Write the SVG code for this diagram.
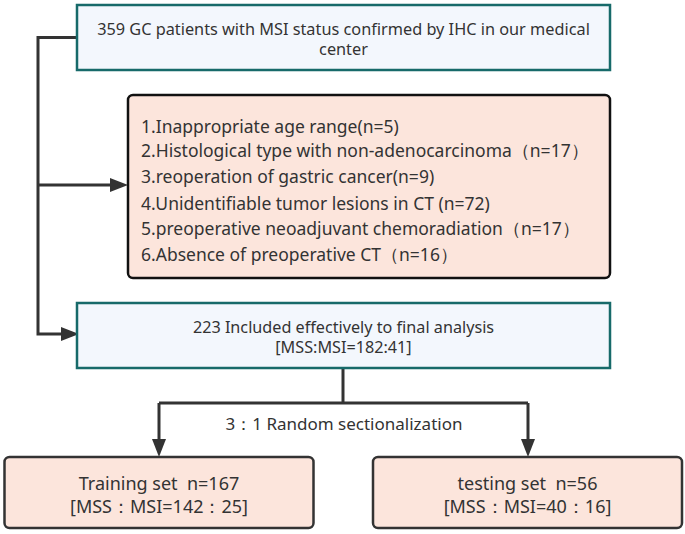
<svg xmlns="http://www.w3.org/2000/svg" width="685" height="534" viewBox="0 0 685 534">
<defs>
<style>
.blue{fill:#f3f7fd;stroke:#176a6a;stroke-width:2.5}
.pink{fill:#fce5dc;stroke:#111;stroke-width:2.5}
.pink2{fill:#fce5dc;stroke:#333;stroke-width:2.5}
.t{font-family:"Noto Sans","Liberation Sans",sans-serif;fill:#333;white-space:pre}
.c{text-anchor:middle}
.conn{fill:none;stroke:#333;stroke-width:3}
</style>
<marker id="arr" markerUnits="userSpaceOnUse" markerWidth="18" markerHeight="14" refX="8" refY="7" orient="auto">
<path d="M0,0 L18,7 L0,14 z" fill="#333"/>
</marker>
</defs>
<rect width="685" height="534" fill="#fff"/>
<g id="connectors">
<path class="conn" d="M77,37.5 H38 V334 H69" marker-end="url(#arr)"/>
<path class="conn" d="M38,185 H118" marker-end="url(#arr)"/>
<path class="conn" d="M343,368 V403"/>
<path class="conn" d="M159,403 H528"/>
<path class="conn" d="M159,403 V447" marker-end="url(#arr)"/>
<path class="conn" d="M528,403 V447" marker-end="url(#arr)"/>
</g>
<g id="n1">
<rect class="blue" x="77" y="5" width="533" height="65"/>
<text class="t c" x="343.5" y="35" font-size="16.3">359 GC patients with MSI status confirmed by IHC in our medical</text>
<text class="t c" x="343.5" y="55" font-size="16.3">center</text>
</g>
<g id="n2">
<rect class="pink" x="128" y="95" width="482" height="183" rx="5"/>
<g class="t" font-size="17.5">
<text x="141" y="132.5">1.Inappropriate age range(n=5)</text>
<text x="141" y="157">2.Histological type with non-adenocarcinoma（n=17）</text>
<text x="141" y="183">3.reoperation of gastric cancer(n=9)</text>
<text x="141" y="209.5">4.Unidentifiable tumor lesions in CT (n=72)</text>
<text x="141" y="235">5.preoperative neoadjuvant chemoradiation（n=17）</text>
<text x="141" y="260.5">6.Absence of preoperative CT（n=16）</text>
</g>
</g>
<g id="n3">
<rect class="blue" x="77" y="303" width="533" height="65"/>
<text class="t c" x="343.5" y="333" font-size="16.2">223 Included effectively to final analysis</text>
<text class="t c" x="343.5" y="353" font-size="16.2">[MSS:MSI=182:41]</text>
</g>
<g id="label">
<text class="t c" x="344" y="430" font-size="17">3：1 Random sectionalization</text>
</g>
<g id="n4">
<rect class="pink2" x="4.5" y="457" width="309" height="71" rx="5"/>
<text class="t c" x="159" y="490" font-size="18">Training set  n=167</text>
<text class="t c" x="159" y="513" font-size="18">[MSS：MSI=142：25]</text>
</g>
<g id="n5">
<rect class="pink2" x="373" y="457" width="309" height="71" rx="5"/>
<text class="t c" x="527.5" y="490" font-size="18">testing set  n=56</text>
<text class="t c" x="527.5" y="513" font-size="18">[MSS：MSI=40：16]</text>
</g>
</svg>
